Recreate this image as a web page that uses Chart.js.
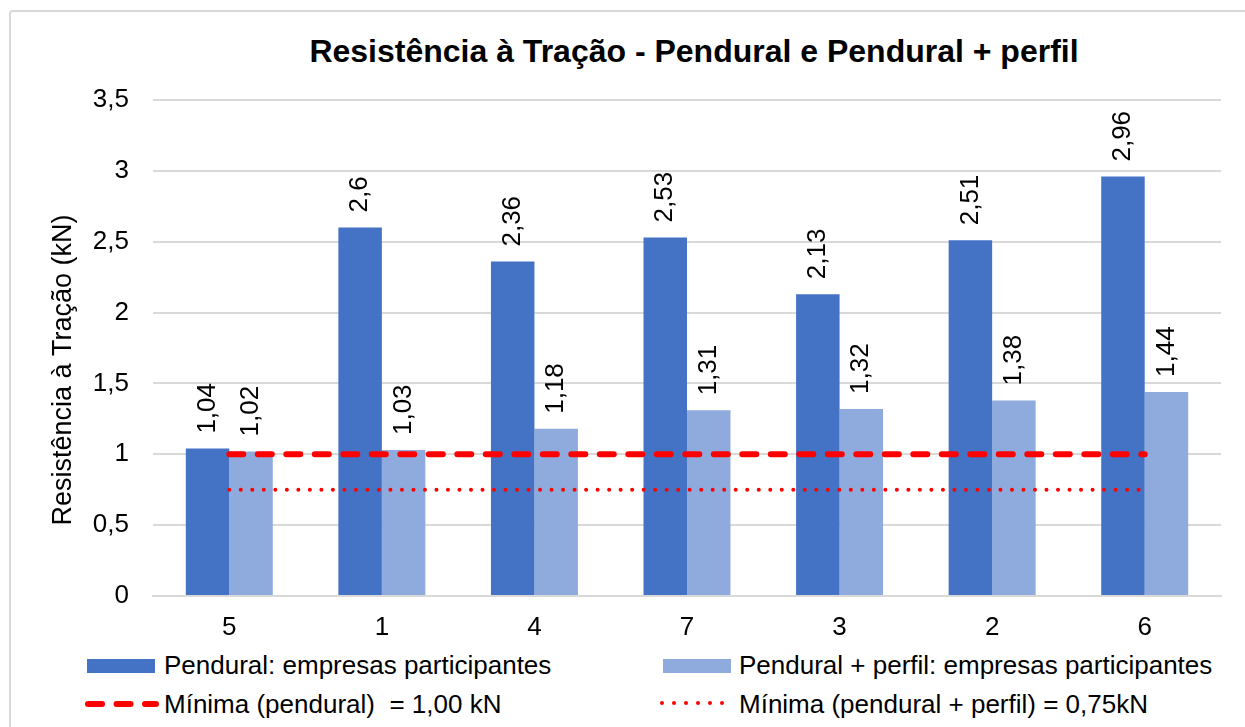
<!DOCTYPE html>
<html>
<head>
<meta charset="utf-8">
<script src="https://cdn.jsdelivr.net/npm/chart.js@4/dist/chart.umd.min.js"></script>
<style>
body { margin: 0; background: #fff; font-family: "Liberation Sans", Arial, sans-serif; }
#frame { position: absolute; left: 9px; top: 10px; width: 1260px; height: 760px; border: 2px solid #d9d9d9; border-radius: 4px; box-sizing: border-box; }
#title { position: absolute; left: 694px; top: 35px; transform: translateX(-50%); white-space: nowrap; font-weight: bold; font-size: 32px; line-height: 32px; color: #000; }
#wrap { position: absolute; left: 0; top: 0; width: 1245px; height: 645px; }
.leg { position: absolute; font-size: 26px; line-height: 26px; color: #000; white-space: nowrap; }
.sw { position: absolute; }
</style>
</head>
<body>
<div id="frame"></div>
<div id="title">Resistência à Tração - Pendural e Pendural + perfil</div>
<div id="wrap"><canvas id="resChart"></canvas></div>

<div class="sw" style="left:87px;top:659px;width:68px;height:14px;background:#4472C4"></div>
<div class="leg" style="left:164px;top:652px">Pendural: empresas participantes</div>
<div class="sw" style="left:663px;top:659px;width:68px;height:14px;background:#8FAADC"></div>
<div class="leg" style="left:739px;top:652px">Pendural + perfil: empresas participantes</div>

<svg class="sw" style="left:0;top:690px" width="1245" height="30">
  <line x1="88" y1="14" x2="156" y2="14" stroke="#FF0000" stroke-width="6" stroke-linecap="round" stroke-dasharray="14 14.5"/>
  <line x1="662" y1="13" x2="723" y2="13" stroke="#FF0000" stroke-width="4" stroke-linecap="round" stroke-dasharray="0 12"/>
</svg>
<div class="leg" style="left:164px;top:691px">Mínima (pendural)&nbsp; = 1,00 kN</div>
<div class="leg" style="left:739px;top:691px">Mínima (pendural + perfil) = 0,75kN</div>

<script>
// categorias (empresas) e valores
const empresas = ["5", "1", "4", "7", "3", "2", "6"];
const pendural = [1.04, 2.6, 2.36, 2.53, 2.13, 2.51, 2.96];
const penduralPerfil = [1.02, 1.03, 1.18, 1.31, 1.32, 1.38, 1.44];
const minimaPendural = [1, 1, 1, 1, 1, 1, 1];
const minimaPerfil = [0.75, 0.75, 0.75, 0.75, 0.75, 0.75, 0.75];
const yMax = 3.5;
const yStep = 0.5;
const yTitulo = "Resistência à Tração (kN)";

const fmt = v => String(v).replace(".", ",");
const fonte = "'Liberation Sans', Arial, sans-serif";

// rótulos de dados rotacionados em cima das barras + título do eixo y
const barLabels = {
    id: "barLabels",
    afterDatasetsDraw(chart) {
        const ctx = chart.ctx;
        ctx.save();
        ctx.font = "26px " + fonte;
        ctx.fillStyle = "#000";
        ctx.textAlign = "left";
        ctx.textBaseline = "middle";
        chart.data.datasets.forEach((ds, i) => {
            if (ds.type !== "bar") return;
            chart.getDatasetMeta(i).data.forEach((bar, j) => {
                ctx.save();
                ctx.translate(bar.x, bar.y - 15);
                ctx.rotate(-Math.PI / 2);
                ctx.fillText(fmt(ds.data[j]), 0, 0);
                ctx.restore();
            });
        });
        // título do eixo y, um pouco abaixo do centro como no original
        const area = chart.chartArea;
        ctx.font = "27px " + fonte;
        ctx.textAlign = "center";
        ctx.translate(64, (area.top + area.bottom) / 2 + 22);
        ctx.rotate(-Math.PI / 2);
        ctx.fillText(yTitulo, 0, 0);
        ctx.restore();
    }
};

const ctx = document.getElementById("resChart").getContext("2d");
const myChart = new Chart(ctx, {
    data: {
        labels: empresas,
        datasets: [
            {
                type: "line",
                label: "Mínima (pendural) = 1,00 kN",
                data: minimaPendural,
                borderColor: "#FF0000",
                borderWidth: 6,
                borderDash: [14, 14.5],
                borderCapStyle: "round",
                pointRadius: 0,
                order: 0
            },
            {
                type: "line",
                label: "Mínima (pendural + perfil) = 0,75kN",
                data: minimaPerfil,
                borderColor: "#FF0000",
                borderWidth: 4,
                borderDash: [0.01, 11.5],
                borderCapStyle: "round",
                pointRadius: 0,
                order: 0
            },
            {
                type: "bar",
                label: "Pendural: empresas participantes",
                data: pendural,
                backgroundColor: "#4472C4",
                categoryPercentage: 0.57,
                barPercentage: 1,
                order: 1
            },
            {
                type: "bar",
                label: "Pendural + perfil: empresas participantes",
                data: penduralPerfil,
                backgroundColor: "#8FAADC",
                categoryPercentage: 0.57,
                barPercentage: 1,
                order: 1
            }
        ]
    },
    options: {
        responsive: true,
        maintainAspectRatio: false,
        animation: false,
        layout: { padding: { top: 100, right: 24, left: 0, bottom: 0 } },
        plugins: {
            legend: { display: false },
            tooltip: { enabled: false }
        },
        scales: {
            x: {
                grid: { display: false, drawTicks: false },
                border: { color: "#d9d9d9", width: 2 },
                ticks: {
                    color: "#000",
                    padding: 16,
                    font: { family: fonte, size: 26 }
                },
                afterFit(scale) { scale.height = 49; }
            },
            y: {
                min: 0,
                max: yMax,
                grid: { color: "#d9d9d9", lineWidth: 2, drawTicks: false },
                border: { display: false },
                ticks: {
                    stepSize: yStep,
                    color: "#000",
                    padding: 24,
                    font: { family: fonte, size: 26 },
                    callback: v => fmt(v)
                },
                afterFit(scale) { scale.width = 153; }
            }
        }
    },
    plugins: [barLabels]
});
</script>
</body>
</html>
